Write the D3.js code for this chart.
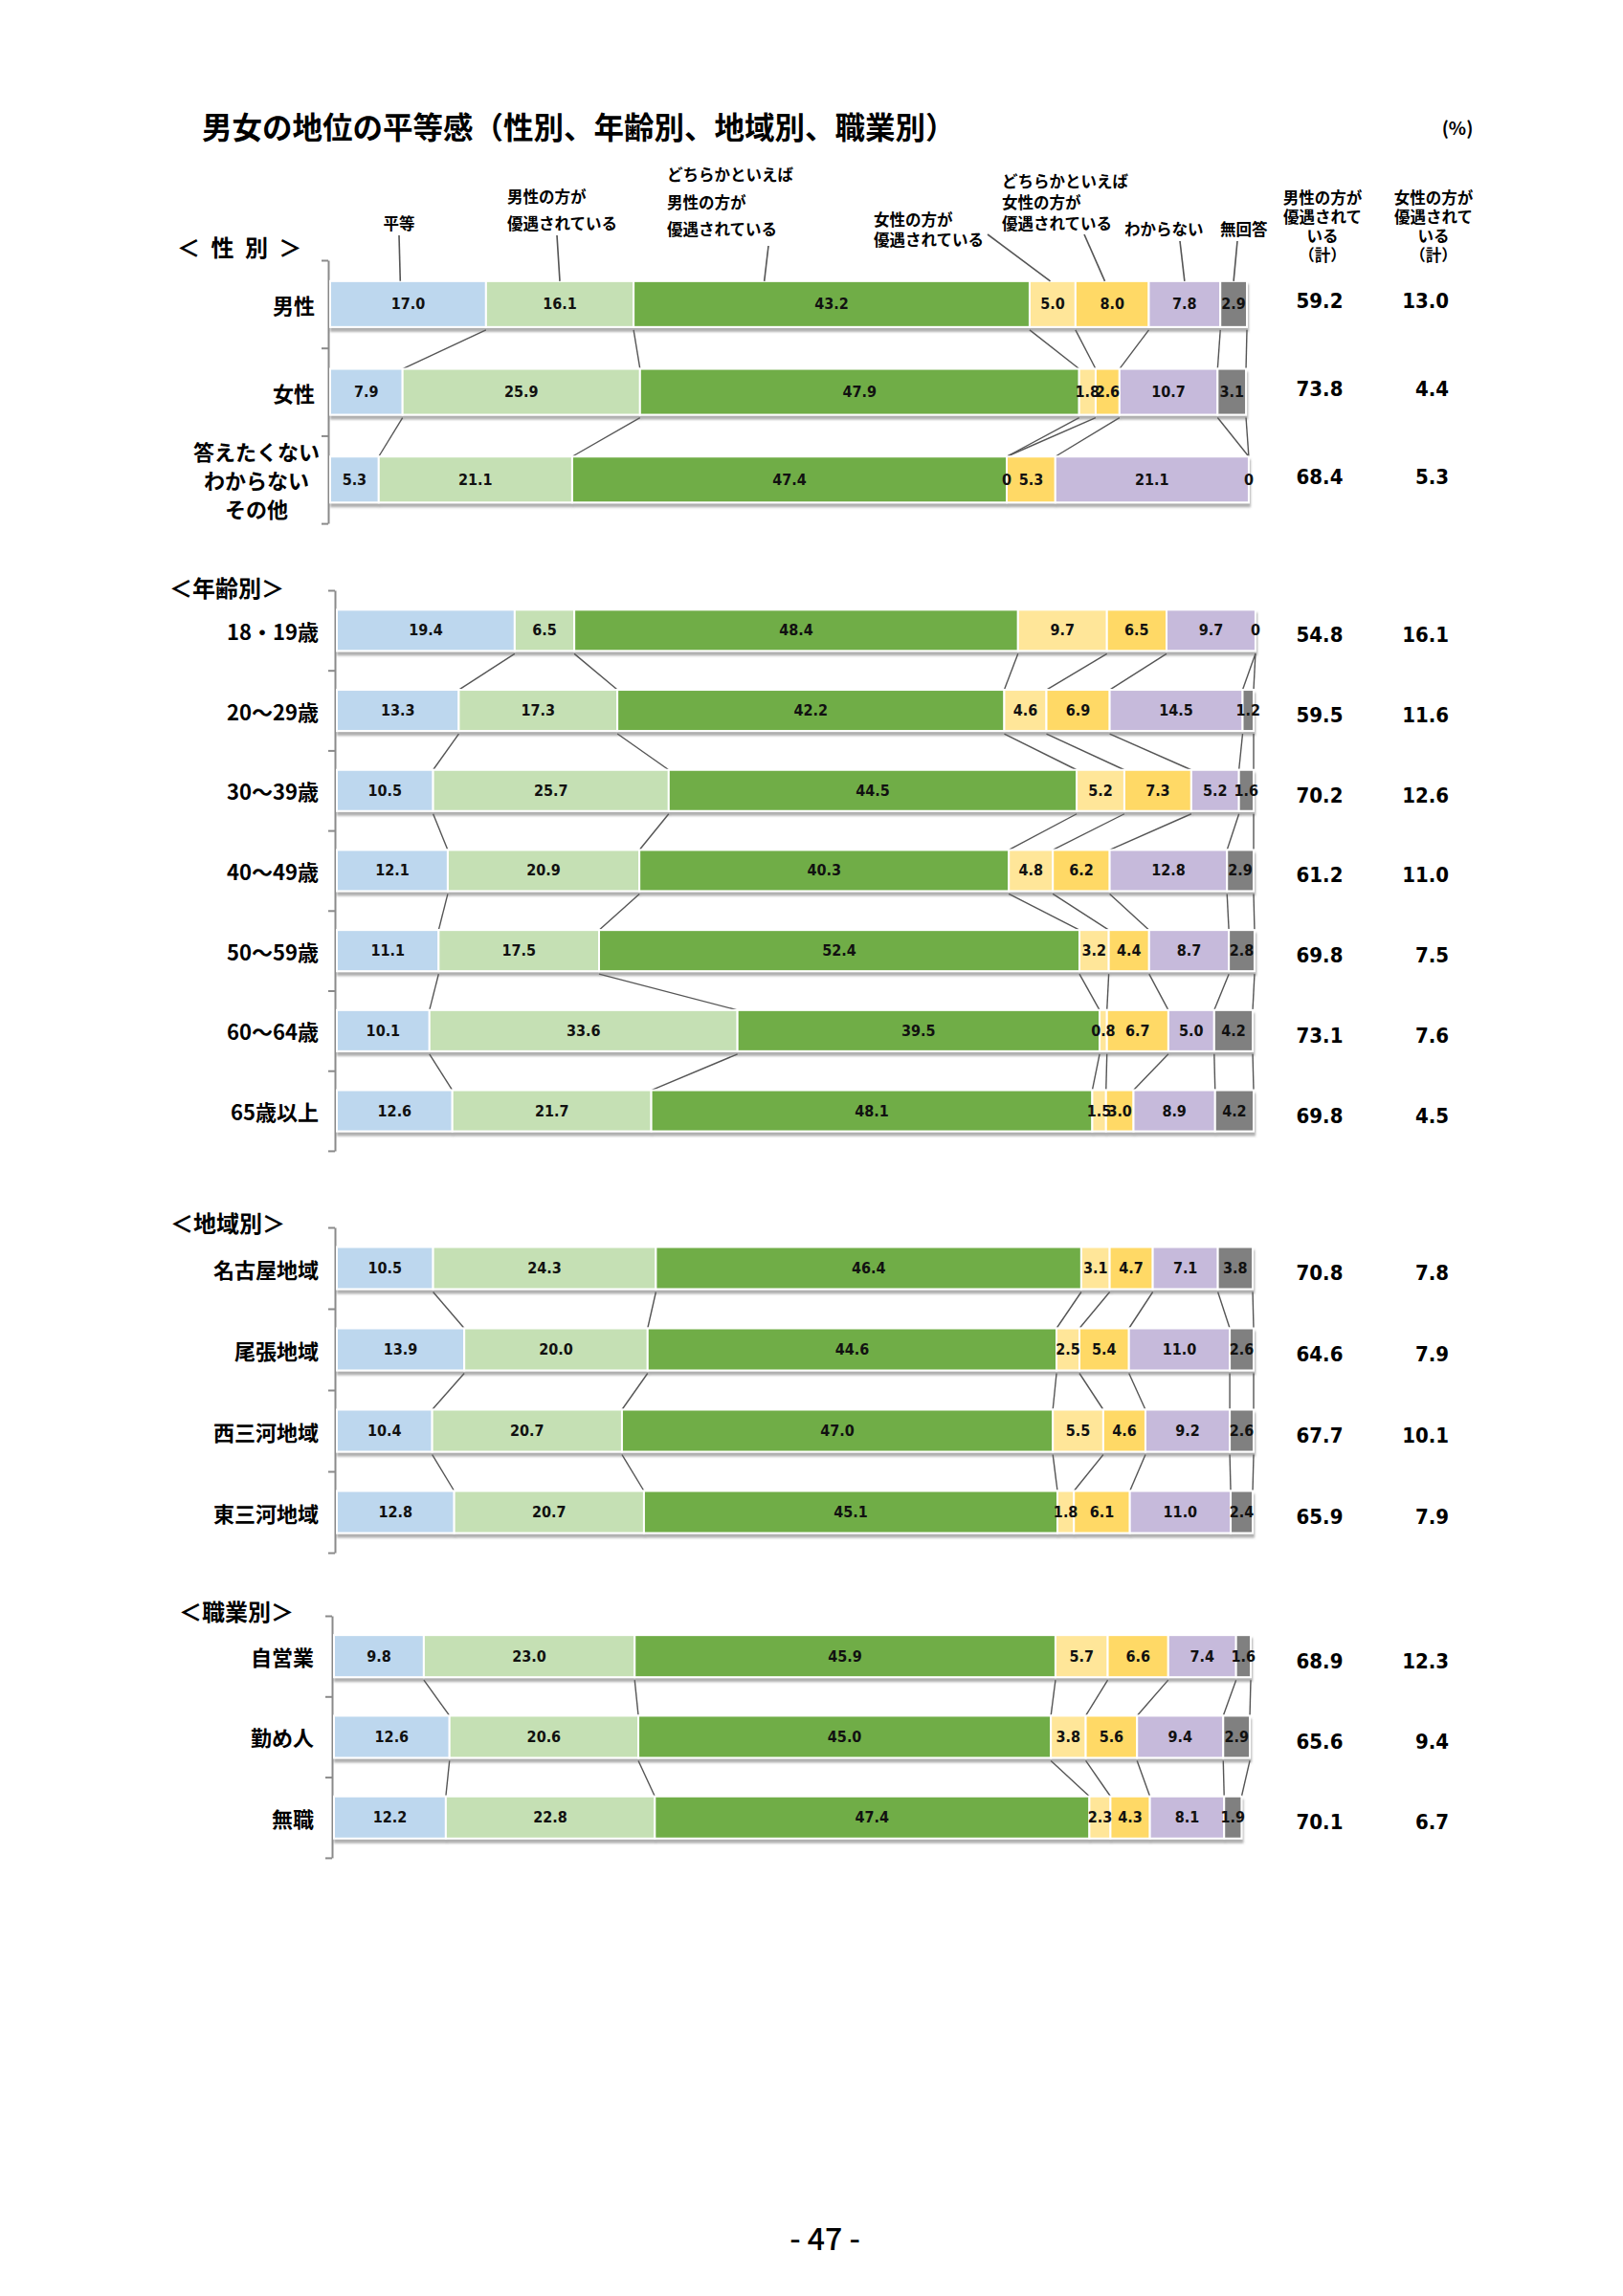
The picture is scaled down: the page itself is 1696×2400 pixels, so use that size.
<!DOCTYPE html>
<html>
<head>
<meta charset="utf-8">
<script src="https://cdn.jsdelivr.net/npm/d3@7"></script>
<style>
    body { margin: 0; background: #fff; }
    text { font-family: "Noto Sans CJK JP", sans-serif; }
    .num { font-family: "Liberation Sans Narrow", "DejaVu Sans Condensed", sans-serif; font-weight: 700; }
</style>
</head>
<body>
<svg id="chart"></svg>
<script>
// Answer categories, in stacking order
const categories = ["平等", "男性の方が優遇されている", "どちらかといえば男性の方が優遇されている",
    "女性の方が優遇されている", "どちらかといえば女性の方が優遇されている", "わからない", "無回答"];
const categoryLines = [["平等"], ["男性の方が", "優遇されている"], ["どちらかといえば", "男性の方が", "優遇されている"],
    ["女性の方が", "優遇されている"], ["どちらかといえば", "女性の方が", "優遇されている"], ["わからない"], ["無回答"]];
const colors = ["#bdd7ee", "#c5e0b4", "#70ad47", "#ffe699", "#ffd966", "#c6badb", "#808080"];

// 性別
const genderRows = ["男性", "女性", "答えたくない\nわからない\nその他"];
const genderValues = [
    [17.0, 16.1, 43.2, 5.0, 8.0, 7.8, 2.9],
    [7.9, 25.9, 47.9, 1.8, 2.6, 10.7, 3.1],
    [5.3, 21.1, 47.4, 0, 5.3, 21.1, 0]
];
const genderMaleTotal = [59.2, 73.8, 68.4];
const genderFemaleTotal = [13.0, 4.4, 5.3];

// 年齢別
const ageRows = ["18・19歳", "20～29歳", "30～39歳", "40～49歳", "50～59歳", "60～64歳", "65歳以上"];
const ageValues = [
    [19.4, 6.5, 48.4, 9.7, 6.5, 9.7, 0],
    [13.3, 17.3, 42.2, 4.6, 6.9, 14.5, 1.2],
    [10.5, 25.7, 44.5, 5.2, 7.3, 5.2, 1.6],
    [12.1, 20.9, 40.3, 4.8, 6.2, 12.8, 2.9],
    [11.1, 17.5, 52.4, 3.2, 4.4, 8.7, 2.8],
    [10.1, 33.6, 39.5, 0.8, 6.7, 5.0, 4.2],
    [12.6, 21.7, 48.1, 1.5, 3.0, 8.9, 4.2]
];
const ageMaleTotal = [54.8, 59.5, 70.2, 61.2, 69.8, 73.1, 69.8];
const ageFemaleTotal = [16.1, 11.6, 12.6, 11.0, 7.5, 7.6, 4.5];

// 地域別
const regionRows = ["名古屋地域", "尾張地域", "西三河地域", "東三河地域"];
const regionValues = [
    [10.5, 24.3, 46.4, 3.1, 4.7, 7.1, 3.8],
    [13.9, 20.0, 44.6, 2.5, 5.4, 11.0, 2.6],
    [10.4, 20.7, 47.0, 5.5, 4.6, 9.2, 2.6],
    [12.8, 20.7, 45.1, 1.8, 6.1, 11.0, 2.4]
];
const regionMaleTotal = [70.8, 64.6, 67.7, 65.9];
const regionFemaleTotal = [7.8, 7.9, 10.1, 7.9];

// 職業別
const jobRows = ["自営業", "勤め人", "無職"];
const jobValues = [
    [9.8, 23.0, 45.9, 5.7, 6.6, 7.4, 1.6],
    [12.6, 20.6, 45.0, 3.8, 5.6, 9.4, 2.9],
    [12.2, 22.8, 47.4, 2.3, 4.3, 8.1, 1.9]
];
const jobMaleTotal = [68.9, 65.6, 70.1];
const jobFemaleTotal = [12.3, 9.4, 6.7];

const totalHeader1 = ["男性の方が", "優遇されて", "いる", "（計）"];
const totalHeader2 = ["女性の方が", "優遇されて", "いる", "（計）"];

const width = 1696, height = 2400;
const svg = d3.select("#chart").attr("width", width).attr("height", height);

// soft grey shadow under each bar
svg.append("defs").append("filter")
        .attr("id", "shadow")
        .attr("x", "-2%").attr("y", "-20%")
        .attr("width", "104%").attr("height", "160%")
    .append("feDropShadow")
        .attr("dx", 1).attr("dy", 4)
        .attr("stdDeviation", 1.3)
        .attr("flood-color", "#606060")
        .attr("flood-opacity", 0.5);

function fmt(v) {
    return v === 0 ? "0" : v.toFixed(1);
}

// title, unit, page number
svg.append("text")
    .attr("x", 211).attr("y", 131)
    .attr("dominant-baseline", "central")
    .attr("font-size", 31.5).attr("font-weight", 700)
    .text("男女の地位の平等感（性別、年齢別、地域別、職業別）");
svg.append("text")
    .attr("x", 1523).attr("y", 132)
    .attr("text-anchor", "middle").attr("dominant-baseline", "central")
    .attr("font-size", 19).attr("font-weight", 700)
    .text("(%)");
svg.append("text")
    .attr("x", 862).attr("y", 2338)
    .attr("text-anchor", "middle").attr("dominant-baseline", "central")
    .attr("font-size", 32).attr("font-weight", 500)
    .text("- 47 -");

function drawSection(sec) {
    const n = sec.rows.length;
    const pad = 1 - sec.barH / sec.band;
    const y = d3.scaleBand()
        .domain(d3.range(n))
        .range([sec.top, sec.top + sec.band * n])
        .paddingInner(pad)
        .paddingOuter(pad / 2);
    const x = d3.scaleLinear().domain([0, 100]).range([sec.x0, sec.x0 + 958]);
    const g = svg.append("g");

    // section heading
    g.append("text")
        .attr("x", sec.headX).attr("y", sec.headY)
        .attr("dominant-baseline", "central")
        .attr("font-size", 24).attr("font-weight", 700)
        .attr("letter-spacing", sec.headSpacing || 0)
        .text(sec.heading);

    // vertical axis, ticks sit between the rows
    const yEdge = d3.scaleLinear().domain([0, n]).range([sec.top, sec.top + sec.band * n]);
    g.append("g")
        .attr("transform", `translate(${sec.x0 - 2},0)`)
        .call(d3.axisLeft(yEdge).tickValues(d3.range(n + 1)).tickFormat("").tickSizeInner(7).tickSizeOuter(0))
        .call(a => a.selectAll("path, line").attr("stroke", "#8a8a8a").attr("stroke-width", 2));

    // cumulative positions of every segment
    const stacks = sec.values.map(vals => {
        let c = 0;
        return vals.map((v, k) => {
            const s = { k: k, v: v, start: c, end: c + v };
            c += v;
            return s;
        });
    });

    // series lines between neighbouring bars
    for (let i = 0; i < n - 1; i++) {
        stacks[i].forEach((s, k) => {
            g.append("line")
                .attr("x1", x(s.end)).attr("y1", y(i) + sec.barH + 3)
                .attr("x2", x(stacks[i + 1][k].end)).attr("y2", y(i + 1))
                .attr("stroke", "#555").attr("stroke-width", 1.4);
        });
    }

    // bars
    const rows = g.selectAll(".row")
        .data(stacks)
        .join("g")
            .attr("class", "row")
            .attr("transform", (d, i) => `translate(0,${y(i)})`);

    rows.append("g")
            .attr("filter", "url(#shadow)")
        .selectAll("rect")
        .data(d => d)
        .join("rect")
            .attr("x", d => x(d.start))
            .attr("width", d => Math.max(0, x(d.end) - x(d.start)))
            .attr("height", sec.barH)
            .attr("fill", d => colors[d.k])
            .attr("stroke", "#fff")
            .attr("stroke-width", 2);

    rows.selectAll(".seg")
        .data(d => d)
        .join("text")
            .attr("class", "num seg")
            .attr("x", d => (x(d.start) + x(d.end)) / 2)
            .attr("y", sec.barH / 2)
            .attr("text-anchor", "middle").attr("dominant-baseline", "central")
            .attr("font-size", 16).attr("fill", "#111")
            .text(d => fmt(d.v));

    // row labels
    sec.rows.forEach((label, i) => {
        const lines = label.split("\n");
        const t = g.append("text")
            .attr("font-size", 22).attr("font-weight", 700)
            .attr("text-anchor", lines.length > 1 ? "middle" : "end")
            .attr("dominant-baseline", "central");
        lines.forEach((ln, j) => {
            t.append("tspan")
                .attr("x", lines.length > 1 ? sec.multiX : sec.labelRight)
                .attr("y", y(i) + sec.barH / 2 + (j - (lines.length - 1) / 2) * 30)
                .text(ln);
        });
    });

    // totals on the right
    sec.male.forEach((v, i) => {
        g.append("text")
            .attr("class", "num")
            .attr("x", 1379).attr("y", y(i) + sec.barH / 2 + sec.totalDy)
            .attr("text-anchor", "middle").attr("dominant-baseline", "central")
            .attr("font-size", 22)
            .text(fmt(v));
    });
    sec.female.forEach((v, i) => {
        g.append("text")
            .attr("class", "num")
            .attr("x", 1514).attr("y", y(i) + sec.barH / 2 + sec.totalDy)
            .attr("text-anchor", "end").attr("dominant-baseline", "central")
            .attr("font-size", 22)
            .text(fmt(v));
    });

    return { x: x, y: y, stacks: stacks };
}

const gender = drawSection({
    heading: "＜ 性 別 ＞", headX: 185, headY: 257, headSpacing: 3,
    rows: genderRows, values: genderValues, male: genderMaleTotal, female: genderFemaleTotal,
    top: 272, band: 91.7, barH: 48, x0: 345, totalDy: -3,
    labelRight: 329, multiX: 268
});
drawSection({
    heading: "＜年齢別＞", headX: 177, headY: 613,
    rows: ageRows, values: ageValues, male: ageMaleTotal, female: ageFemaleTotal,
    top: 617, band: 83.7, barH: 43, x0: 352, totalDy: 5,
    labelRight: 333
});
drawSection({
    heading: "＜地域別＞", headX: 178, headY: 1277,
    rows: regionRows, values: regionValues, male: regionMaleTotal, female: regionFemaleTotal,
    top: 1283, band: 85, barH: 44, x0: 352, totalDy: 5,
    labelRight: 333
});
drawSection({
    heading: "＜職業別＞", headX: 187, headY: 1683,
    rows: jobRows, values: jobValues, male: jobMaleTotal, female: jobFemaleTotal,
    top: 1689, band: 84.3, barH: 44, x0: 349, totalDy: 5,
    labelRight: 328
});

// category callouts above the first bar
const callouts = [
    { x: 417, y: 233, dy: 28, anchor: "middle", lx: 417, ly: 246, frac: 0.45 },
    { x: 530, y: 205, dy: 28, anchor: "start", lx: 582, ly: 246, frac: 0.5 },
    { x: 697, y: 182, dy: 28.5, anchor: "start", lx: 803, ly: 257, frac: 0.33 },
    { x: 913, y: 229, dy: 21, anchor: "start", lx: 1032, ly: 245, frac: 0.45 },
    { x: 1047, y: 189, dy: 22, anchor: "start", lx: 1133, ly: 245, frac: 0.4 },
    { x: 1175, y: 239, dy: 22, anchor: "start", lx: 1233, ly: 252, frac: 0.5 },
    { x: 1275, y: 239, dy: 22, anchor: "start", lx: 1293, ly: 252, frac: 0.5 }
];
const firstRow = gender.stacks[0];
callouts.forEach((c, k) => {
    const seg = firstRow[k];
    const t = svg.append("text")
        .attr("font-size", 16.5).attr("font-weight", 700)
        .attr("text-anchor", c.anchor).attr("dominant-baseline", "central");
    categoryLines[k].forEach((ln, j) => {
        t.append("tspan").attr("x", c.x).attr("y", c.y + j * c.dy).text(ln);
    });
    svg.append("line")
        .attr("x1", c.lx).attr("y1", c.ly)
        .attr("x2", gender.x(seg.start + seg.v * c.frac)).attr("y2", gender.y(0))
        .attr("stroke", "#555").attr("stroke-width", 1.6);
});

// headers of the total columns
[[totalHeader1, 1382], [totalHeader2, 1498]].forEach(([lines, cx]) => {
    const t = svg.append("text")
        .attr("font-size", 16.5).attr("font-weight", 700)
        .attr("text-anchor", "middle").attr("dominant-baseline", "central");
    lines.forEach((ln, j) => {
        t.append("tspan").attr("x", cx).attr("y", 206 + j * 20).text(ln);
    });
});
</script>
</body>
</html>
